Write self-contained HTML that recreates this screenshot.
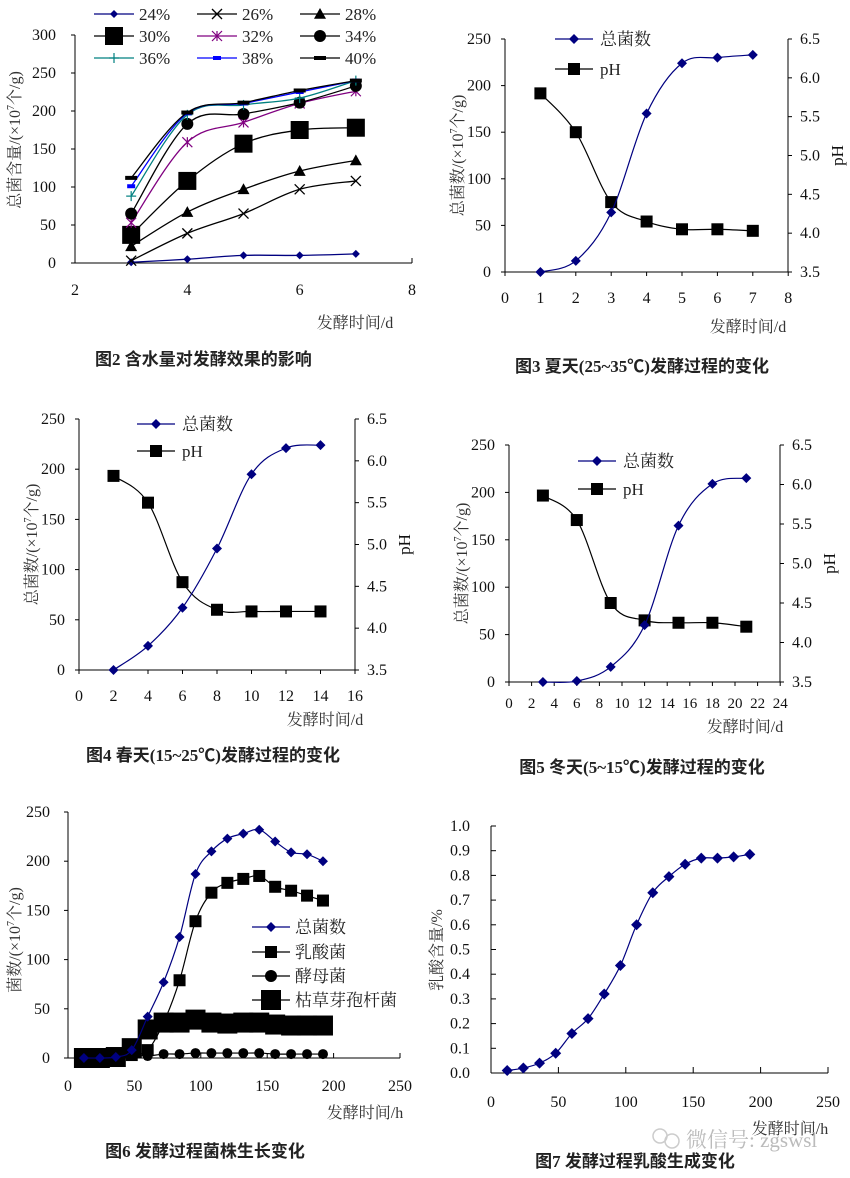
<!DOCTYPE html>
<html><head><meta charset="utf-8">
<style>
html,body{margin:0;padding:0;background:#fff;}
svg{display:block;}
text{font-family:"Liberation Serif","Noto Serif CJK SC","Noto Sans CJK SC",serif;}
.cap{font-family:"Liberation Serif","Noto Sans CJK SC",sans-serif;font-weight:bold;fill:#222;}
</style></head>
<body>
<svg id="s" xmlns="http://www.w3.org/2000/svg" width="850" height="1178" viewBox="0 0 850 1178"></svg>
<script>
var out=[];
function T(x,y,s,opt){opt=opt||{};out.push('<text x="'+x+'" y="'+y+'" font-size="'+(opt.fs||15)+'" fill="'+(opt.c||'#111')+'" text-anchor="'+(opt.a||'start')+'"'+(opt.r?' transform="rotate(-90 '+x+' '+y+')"':'')+(opt.cls?' class="'+opt.cls+'"':'')+'>'+s+'</text>');}
function L(x1,y1,x2,y2,c,w){out.push('<line x1="'+x1+'" y1="'+y1+'" x2="'+x2+'" y2="'+y2+'" stroke="'+(c||'#000')+'" stroke-width="'+(w||1)+'"/>');}
function smooth(p,c,w){var d='M'+p[0][0]+','+p[0][1];
 for(var i=0;i<p.length-1;i++){var p0=p[i-1]||p[i],p1=p[i],p2=p[i+1],p3=p[i+2]||p2;
  var t=0.17;d+=' C'+(p1[0]+(p2[0]-p0[0])*t)+','+(p1[1]+(p2[1]-p0[1])*t)+' '+(p2[0]-(p3[0]-p1[0])*t)+','+(p2[1]-(p3[1]-p1[1])*t)+' '+p2[0]+','+p2[1];}
 out.push('<path d="'+d+'" fill="none" stroke="'+c+'" stroke-width="'+(w||1.2)+'"/>');}
function M(t,x,y,c,s){
 if(t=='d'){out.push('<polygon points="'+x+','+(y-s)+' '+(x+s)+','+y+' '+x+','+(y+s)+' '+(x-s)+','+y+'" fill="'+c+'"/>');}
 else if(t=='q'){out.push('<rect x="'+(x-s)+'" y="'+(y-s)+'" width="'+(2*s)+'" height="'+(2*s)+'" fill="'+c+'"/>');}
 else if(t=='o'){out.push('<circle cx="'+x+'" cy="'+y+'" r="'+s+'" fill="'+c+'"/>');}
 else if(t=='tri'){out.push('<polygon points="'+x+','+(y-s)+' '+(x+s)+','+(y+s*0.8)+' '+(x-s)+','+(y+s*0.8)+'" fill="'+c+'"/>');}
 else if(t=='x'){L(x-s,y-s,x+s,y+s,c,1.3);L(x-s,y+s,x+s,y-s,c,1.3);}
 else if(t=='*'){L(x-s,y-s,x+s,y+s,c,1.2);L(x-s,y+s,x+s,y-s,c,1.2);L(x,y-s,x,y+s,c,1.2);}
 else if(t=='+'){L(x-s,y,x+s,y,c,1.2);L(x,y-s,x,y+s,c,1.2);}
 else if(t=='-'){out.push('<rect x="'+(x-s)+'" y="'+(y-2)+'" width="'+(2*s)+'" height="4" fill="'+c+'"/>');}
}
function series(fx,fy,data,c,mk,ms,w){var p=data.map(function(d){return [fx(d[0]),fy(d[1])];});smooth(p,c,w);p.forEach(function(q){M(mk,q[0],q[1],c,ms);});}
function leg(x1,x2,y,c,mk,ms,txt,tx){L(x1,y,x2,y,c,1.2);M(mk,(x1+x2)/2,y,c,ms);T(tx,y+6,txt,{fs:17,c:'#222'});}
var CF=17,TF=16;

/* ---------- Fig 2 ---------- */
(function(){
 var fx=function(v){return 75+(v-2)*56.17;},fy=function(v){return 263-v*0.76;};
 L(75,35,75,263);L(75,263,412,263);L(412,258,412,263);
 [0,50,100,150,200,250,300].forEach(function(v){L(71,fy(v),75,fy(v));T(56,fy(v)+5,v,{fs:TF,a:'end'});});
 [2,4,6,8].forEach(function(v){T(fx(v),295,v,{fs:TF,a:'middle'});});
 var S=[
  ['24%','#000080','d',4,[1,5,10,10,12]],
  ['26%','#000','x',5,[3,39,65,97,108]],
  ['28%','#000','tri',6,[22,67,97,121,135]],
  ['30%','#000','q',9,[37,108,157,175,178]],
  ['32%','#800080','*',5,[53,159,185,210,226]],
  ['34%','#000','o',6,[65,183,196,211,233]],
  ['36%','#008080','+',5,[88,195,208,217,240]],
  ['38%','#0000ff','-',4,[101,197,210,225,240]],
  ['40%','#000','-',6,[112,198,211,227,240]]];
 S.forEach(function(s,i){series(fx,fy,s[4].map(function(v,j){return [3+j,v];}),s[1],s[2],s[3],1.3);
  var col=i%3,row=Math.floor(i/3);var x0=[94,197,300][col];leg(x0,x0+40,[14,36,58][row],s[1],s[2],s[3],s[0],x0+45);});
 T(20,140,'总菌含量/(×10<tspan font-size="10" dy="-6">7</tspan><tspan dy="6">个/g)</tspan>',{fs:TF,a:'middle',r:1,c:'#333'});
 T(355,328,'发酵时间/d',{fs:TF,a:'middle',c:'#333'});
 T(95,365,'图2  含水量对发酵效果的影响',{cls:'cap',fs:CF});
})();

function dual(o){
 var fx=function(v){return o.l+v*o.xs;},fy=function(v){return o.y0-v*(o.y0-o.y1)/250;},fp=function(v){return o.y0-(v-3.5)*(o.y0-o.y1)/3;};
 L(o.l,o.y1,o.l,o.y0);L(o.l,o.y0,o.r,o.y0);L(o.r,o.y1,o.r,o.y0);
 [0,50,100,150,200,250].forEach(function(v){L(o.l-4,fy(v),o.l,fy(v));T(o.l-14,fy(v)+5,v,{fs:TF,a:'end'});});
 [3.5,4,4.5,5,5.5,6,6.5].forEach(function(v){L(o.r,fp(v),o.r+4,fp(v));T(o.r+12,fp(v)+5,v.toFixed(1),{fs:TF});});
 o.xt.forEach(function(v){L(fx(v),o.y0,fx(v),o.y0+4);T(fx(v),o.y0+(o.xfs?26:31),v,{fs:o.xfs||TF,a:'middle'});});
 series(fx,fp,o.ph,'#000','q',6,1.2);
 series(fx,fy,o.tot,'#000080','d',5,1.2);
 leg(o.lg[0],o.lg[0]+38,o.lg[1],'#000080','d',5,'总菌数',o.lg[0]+45);
 leg(o.lg[0],o.lg[0]+38,o.lg[2],'#000','q',6,'pH',o.lg[0]+45);
 T(o.l-42,(o.y0+o.y1)/2,'总菌数/(×10<tspan font-size="10" dy="-6">7</tspan><tspan dy="6">个/g)</tspan>',{fs:TF,a:'middle',r:1,c:'#333'});
 T(o.r+55,(o.y0+o.y1)/2,'pH',{fs:17,a:'middle',r:1});
 T(o.xl[0],o.xl[1],'发酵时间/d',{fs:TF,a:'middle',c:'#333'});
 T(o.cap[0],o.cap[1],o.cap[2],{cls:'cap',fs:CF,a:'middle'});
}
dual({l:505,r:788,y0:272,y1:39,xs:35.4,xt:[0,1,2,3,4,5,6,7,8],
 tot:[[1,0],[2,12],[3,64],[4,170],[5,224],[6,230],[7,233]],
 ph:[[1,5.8],[2,5.3],[3,4.4],[4,4.15],[5,4.05],[6,4.05],[7,4.03]],
 lg:[555,39,69],xl:[748,332],cap:[642,372,'图3  夏天(25~35℃)发酵过程的变化']});
dual({l:79,r:355,y0:670,y1:419,xs:17.25,xt:[0,2,4,6,8,10,12,14,16],
 tot:[[2,0],[4,24],[6,62],[8,121],[10,195],[12,221],[14,224]],
 ph:[[2,5.82],[4,5.5],[6,4.55],[8,4.22],[10,4.2],[12,4.2],[14,4.2]],
 lg:[137,424,451],xl:[325,725],cap:[213,761,'图4  春天(15~25℃)发酵过程的变化']});
dual({l:509,r:780,y0:682,y1:445,xs:11.3,xt:[0,2,4,6,8,10,12,14,16,18,20,22,24],xfs:15,
 tot:[[3,0],[6,1],[9,16],[12,60],[15,165],[18,209],[21,215]],
 ph:[[3,5.86],[6,5.55],[9,4.5],[12,4.28],[15,4.25],[18,4.25],[21,4.2]],
 lg:[578,461,489],xl:[745,732],cap:[642,773,'图5  冬天(5~15℃)发酵过程的变化']});

(function(){
 var fx=function(v){return 68+v*1.328;},fy=function(v){return 1058-v*0.984;};
 L(68,812,68,1058);L(68,1058,400,1058);
 [0,50,100,150,200,250].forEach(function(v){L(64,fy(v),68,fy(v));T(50,fy(v)+5,v,{fs:TF,a:'end'});});
 [0,50,100,150,200,250].forEach(function(v){L(fx(v),1053,fx(v),1058);T(fx(v),1091,v,{fs:TF,a:'middle'});});
 var t=[];for(var i=1;i<=16;i++)t.push(i*12);
 function z(a){return a.map(function(v,i){return [t[i],v];});}
 series(fx,fy,z([0,0,1,3,8,36,79,139,168,178,182,185,174,170,165,160]),'#000','q',6,1.2);
 series(fx,fy,z([1,1,2,3,2,4,4,5,5,5,5,5,4,4,4,4]),'#000','o',5,1.2);
 series(fx,fy,z([0,0,1,10,29,36,36,39,36,35,36,36,34,33,33,33]),'#000','q',10,1.2);
 series(fx,fy,z([0,0,1,8,42,77,123,187,210,223,228,232,220,209,207,200]),'#000080','d',5,1.2);
 leg(252,290,927,'#000080','d',5,'总菌数',295);
 leg(252,290,952,'#000','q',6,'乳酸菌',295);
 leg(252,290,976,'#000','o',6,'酵母菌',295);
 leg(252,290,1000,'#000','q',10,'枯草芽孢杆菌',295);
 T(20,940,'菌数/(×10<tspan font-size="10" dy="-6">7</tspan><tspan dy="6">个/g)</tspan>',{fs:TF,a:'middle',r:1,c:'#333'});
 T(365,1118,'发酵时间/h',{fs:TF,a:'middle',c:'#333'});
 T(205,1157,'图6  发酵过程菌株生长变化',{cls:'cap',fs:CF,a:'middle'});
})();

(function(){
 var fx=function(v){return 491+v*1.348;},fy=function(v){return 1073-v*247;};
 L(491,826,491,1073);L(491,1073,828,1073);
 for(var k=0;k<=10;k++){var v=k/10;L(491,fy(v),496,fy(v));T(470,fy(v)+5,v.toFixed(1),{fs:TF,a:'end'});}
 [0,50,100,150,200,250].forEach(function(v){L(fx(v),1067,fx(v),1073);T(fx(v),1107,v,{fs:TF,a:'middle'});});
 var d=[0.01,0.02,0.04,0.08,0.16,0.22,0.32,0.435,0.6,0.73,0.795,0.845,0.87,0.87,0.875,0.885];
 series(fx,fy,d.map(function(v,i){return [(i+1)*12,v];}),'#000080','d',5.5,1.2);
 T(442,950,'乳酸含量/%',{fs:TF,a:'middle',r:1,c:'#333'});
 T(790,1134,'发酵时间/h',{fs:TF,a:'middle',c:'#333'});
 out.push('<g fill="none" stroke="#ccc" stroke-width="1.5"><circle cx="660" cy="1136" r="7"/><circle cx="672" cy="1141" r="7"/></g>');
 T(686,1147,'微信号: zgswsl',{fs:21,c:'#bbb'});
 T(635,1167,'图7  发酵过程乳酸生成变化',{cls:'cap',fs:CF,a:'middle'});
})();
document.getElementById('s').innerHTML=out.join('');
</script>
</body></html>
